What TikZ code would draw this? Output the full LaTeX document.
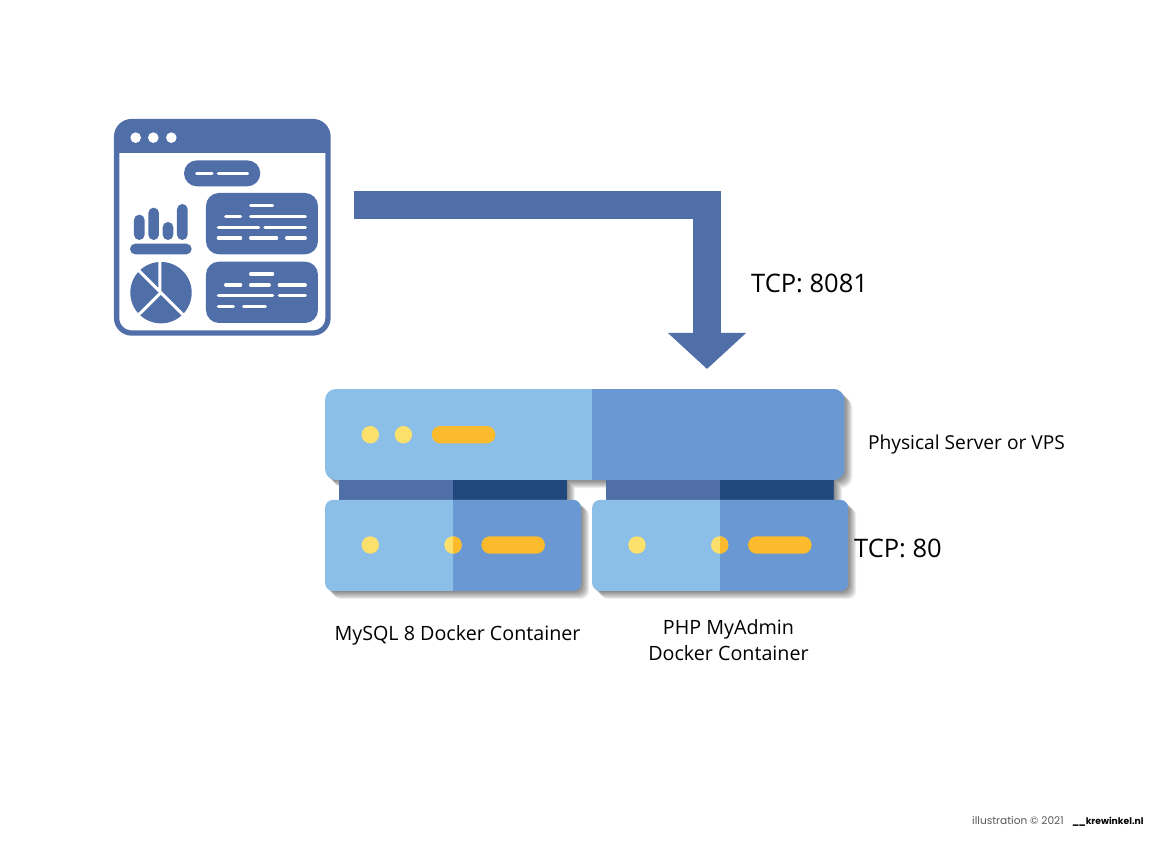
\documentclass[tikz,border=0pt]{standalone}
\usepackage{fontspec}
\setmainfont{Open Sans}
\newfontfamily\footerfont{Poppins}
\usetikzlibrary{arrows.meta}
\usetikzlibrary{positioning}
\definecolor{flowblue}{HTML}{506FA9}
\definecolor{serverlight}{HTML}{8CBFE8}
\definecolor{serverdark}{HTML}{6A98D2}
\definecolor{banddark}{HTML}{20487C}
\definecolor{dotyellow}{HTML}{FCE06C}
\definecolor{pillorange}{HTML}{FBBB2C}
\tikzset{
  softlayer/.style={
    preaction={fill=black,opacity=.07,transform canvas={xshift=#1,yshift=-#1}},
  },
  softshadow/.style={
    softlayer=8pt,
    softlayer=7pt,
    softlayer=6pt,
    softlayer=5pt,
    softlayer=4pt,
    softlayer=3pt,
    softlayer=2pt,
    softlayer=1pt,
  },
  splitfill/.style 2 args={
    path picture={
      \fill[#2,sharp corners] ([xshift=#1]path picture bounding box.south west) rectangle (path picture bounding box.north east);
    },
  },
  serverbox/.style={
    shape=rectangle,
    softshadow,
    fill=serverlight,
    rounded corners=8pt,
    inner sep=0pt,
    minimum width=256pt,
    minimum height=91pt,
  },
  bandbox/.style={
    shape=rectangle,
    softshadow,
    fill=flowblue,
    splitfill={114pt}{banddark},
    inner sep=0pt,
    minimum width=228pt,
    minimum height=20pt,
  },
  leddot/.style={
    shape=circle,
    fill=dotyellow,
    inner sep=0pt,
    minimum size=17.4pt,
  },
  ledpill/.style={
    shape=rectangle,
    fill=pillorange,
    rounded corners=8.6pt,
    inner sep=0pt,
    minimum width=63.5pt,
    minimum height=17.4pt,
  },
  windowbox/.style={
    draw=flowblue,
    fill=white,
    shape=rectangle,
    line width=5.3pt,
    rounded corners=15pt,
    inner sep=0pt,
    minimum size=211.4pt,
    path picture={
      \fill[flowblue,sharp corners] (path picture bounding box.north west) rectangle ([yshift=-31.7pt]path picture bounding box.north east);
    },
  },
  flowline/.style={
    draw=flowblue,
    line width=28pt,
    -{Triangle[length=36pt,width=76pt]},
  },
  biglabel/.style={font=\fontsize{25.5}{30}\selectfont,inner sep=0pt},
  smalllabel/.style={font=\fontsize{19.7}{26.5}\selectfont,align=center,inner sep=0pt},
  iconfill/.style={fill=flowblue},
  iconline/.style={draw=white,line width=3.2pt,line cap=round},
}

\begin{document}
\begin{tikzpicture}[x=1pt,y=-1pt]
  \useasboundingbox (0,0) rectangle (1162,842);

  \node[windowbox] (dashboard) at (222.3,227.3) {};

  \begin{scope}[shift={(100,110)},x=.3333pt,y=-.3333pt]
    \foreach \dotx in {107,160,214}
      \fill[white] (\dotx,83) circle (5.3pt);
    \fill[iconfill,rounded corners=13pt] (252,151) rectangle (481,229);
    \fill[iconfill,rounded corners=13pt] (318,249) rectangle (654,433);
    \fill[iconfill,rounded corners=13pt] (318,455) rectangle (654,639);
    \foreach \xa/\xb/\yy in {
      290/336/190, 355/443/190,
      452/518/287, 377/422/320, 452/616/320,
      355/476/352, 495/616/352,
      355/422/384, 452/530/384, 560/616/384,
      452/518/492, 377/422/525, 452/508/525, 538/616/525,
      355/518/557, 538/616/557,
      355/400/590, 431/496/590}
      \draw[iconline] (\xa,\yy) -- (\xb,\yy);
    % bar chart
    \foreach \xa/\yy in {102/314,145/293,188/336,231/282}
      \fill[iconfill,rounded corners=5.3pt] (\xa,\yy) rectangle (\xa+32,390);
    \fill[iconfill,rounded corners=5.3pt] (90,401) rectangle (275,433);
    % pie chart
    \fill[iconfill] (183,548) circle (30.7pt);
    \draw[white,line width=3pt] (180,440) -- (180,545) -- (105,470);
    \draw[white,line width=3pt] (105,625) -- (183,548) -- (260,625);
  \end{scope}

  \node[serverbox,rounded corners=11pt,minimum width=519.3pt,splitfill={266.7pt}{serverdark}] (physical) at (584.7,434.5) {};
  \node[leddot] (physicaldota) at (370.3,434.7) {};
  \node[leddot] (physicaldotb) [right=15.3pt of physicaldota] {};
  \node[ledpill] (physicalpill) [right=19.3pt of physicaldotb] {};

  \node[bandbox] (mysqlband) at (453,490) {};
  \node[bandbox] (phpband) at (719.7,490) {};

  \node[serverbox,splitfill={128pt}{serverdark}] (mysql) [below right=19.5pt and 0pt of physical.south west] {};
  \node[leddot] (mysqldota) at (370.3,545) {};
  \node[leddot,splitfill={8.7pt}{pillorange}] (mysqldotb) at (453,545) {};
  \node[ledpill] (mysqlpill) [right=19.3pt of mysqldotb] {};

  \node[serverbox,splitfill={128.3pt}{serverdark}] (phpadmin) [right=10.7pt of mysql] {};
  \node[leddot] (phpdota) at (637,545) {};
  \node[leddot,splitfill={8.7pt}{pillorange}] (phpdotb) at (719.7,545) {};
  \node[ledpill] (phppill) [right=19.3pt of phpdotb] {};

  \coordinate (flowstart) at (354,205.5);
  \coordinate (flowend) at (707,369);
  \draw[flowline] (flowstart) -| (flowend);

  \node[biglabel,anchor=west] (portouter) at (751,283) {TCP: 8081};
  \node[smalllabel,font=\fontsize{19.2}{26.5}\selectfont] (physicallabel) at (966.5,444.5) {Physical Server or VPS};
  \node[biglabel,anchor=west] (portinner) at (854,548) {TCP: 80};
  \node[smalllabel] (mysqllabel) at (457.5,635.5) {MySQL 8 Docker Container};
  \node[smalllabel] (phplabel) at (728.5,640) {PHP MyAdmin\\Docker Container};

  \node[anchor=base west,inner sep=0pt,text=black!65,font=\footerfont\fontsize{10.6}{12}\selectfont] (credit) at (972,824) {illustration © 2021};
  \node[anchor=base west,inner sep=0pt,font=\footerfont\bfseries\fontsize{9.2}{11}\selectfont] (creditsite) at (1072,824) {\_\kern-.8pt\_krewinkel.nl};
\end{tikzpicture}
\end{document}
